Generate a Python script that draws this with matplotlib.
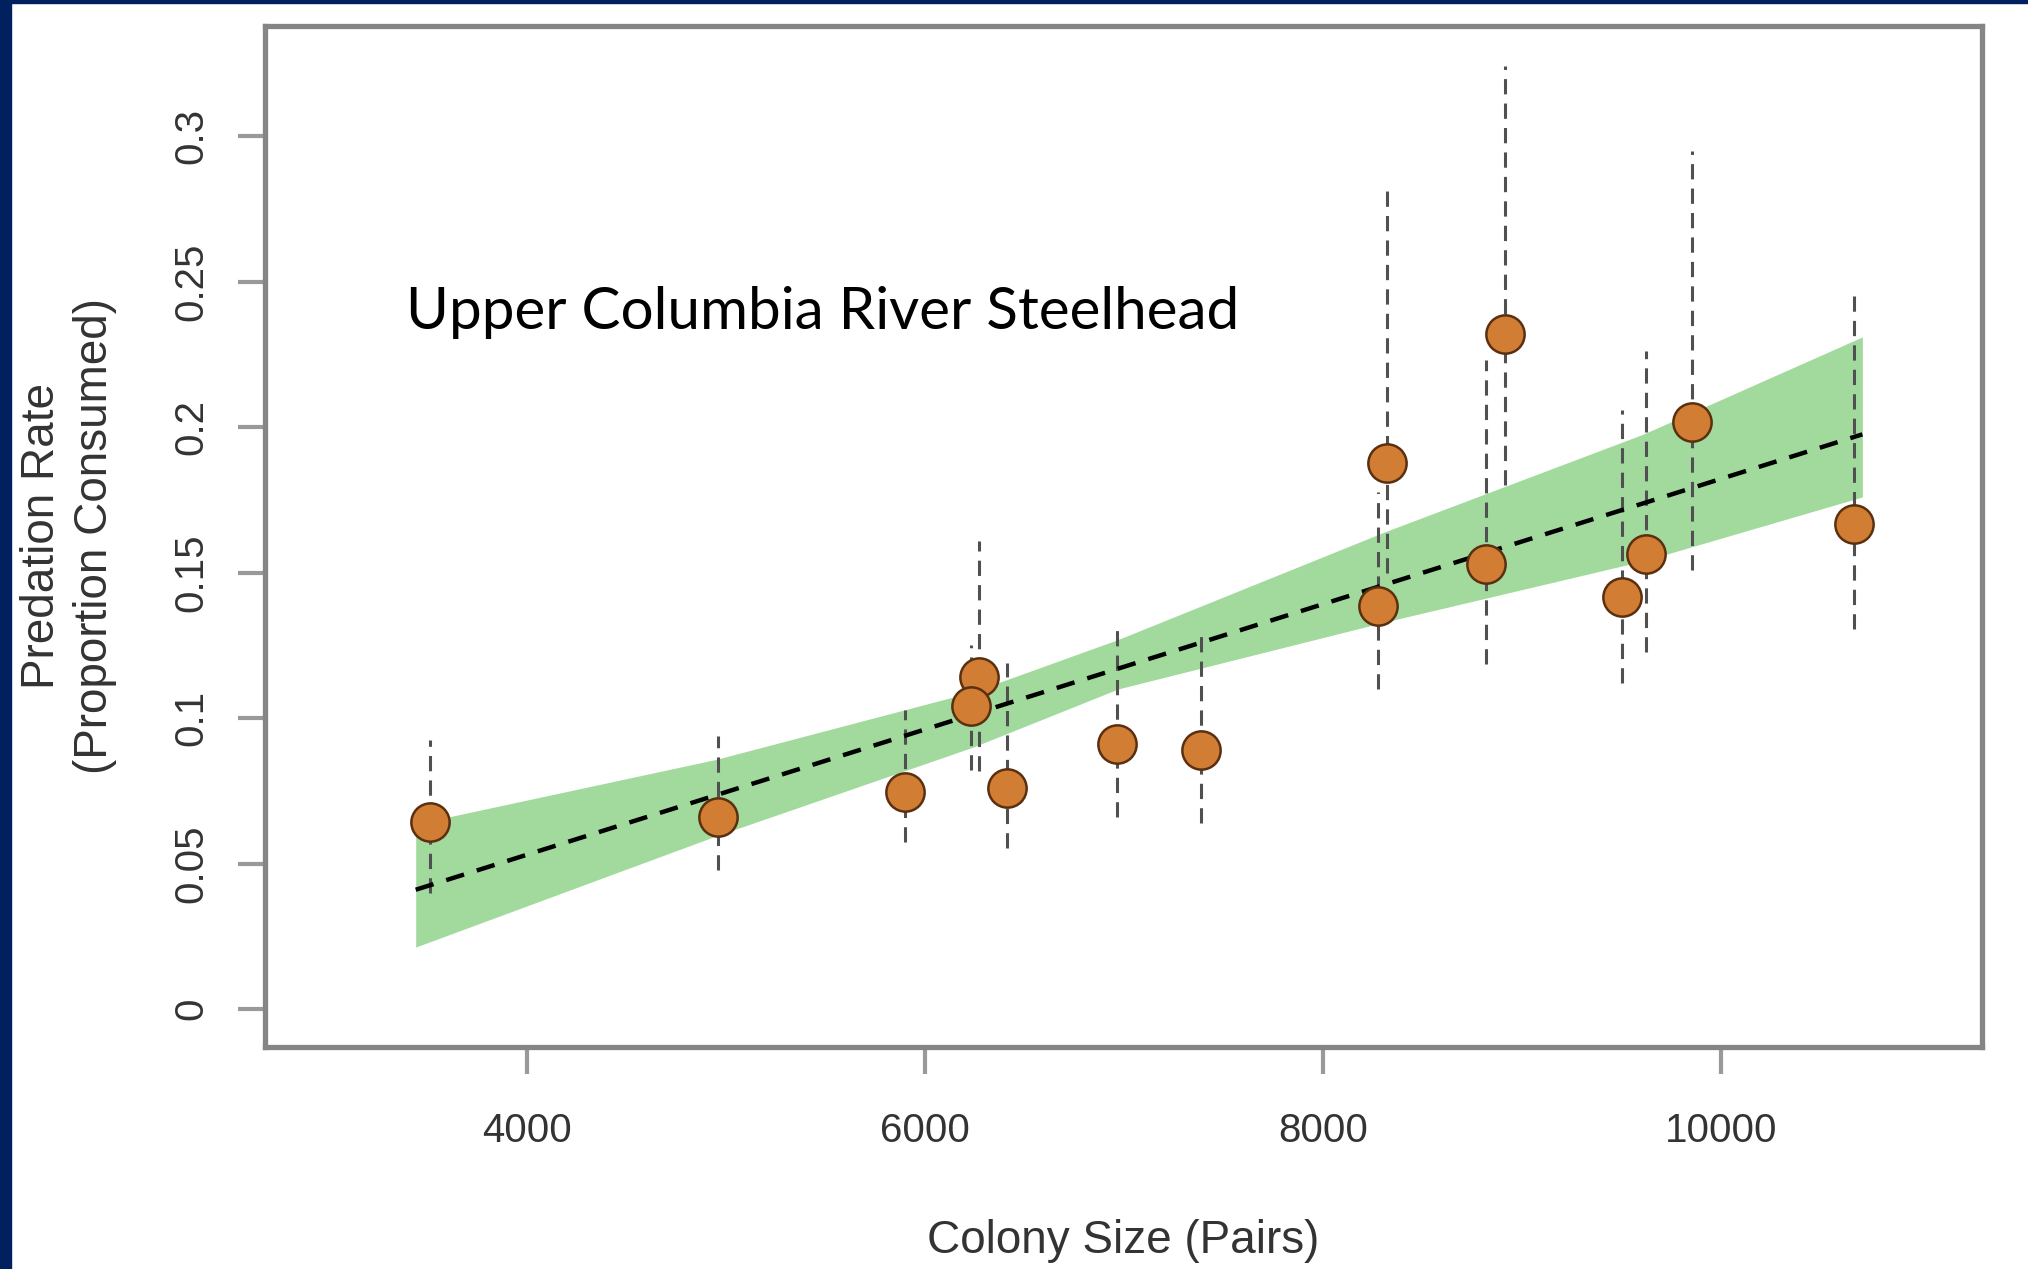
import matplotlib
matplotlib.use("Agg")
import matplotlib.pyplot as plt
from matplotlib.patches import Rectangle

# ---- data ----
colony_size = [3512, 4960, 5897, 6269, 6233, 6412, 6965, 7385,
               8275, 8323, 8818, 8915, 9501, 9622, 9852, 10670]
predation = [0.0644, 0.0660, 0.0745, 0.1140, 0.1042, 0.0760, 0.0910, 0.0890,
             0.1384, 0.1878, 0.1530, 0.2320, 0.1416, 0.1563, 0.2017, 0.1668]
err_low = [0.0400, 0.0477, 0.0574, 0.0817, 0.0820, 0.0555, 0.0660, 0.0640,
           0.1100, 0.1500, 0.1187, 0.1800, 0.1120, 0.1226, 0.1509, 0.1305]
err_high = [0.0924, 0.0938, 0.1028, 0.1610, 0.1250, 0.1190, 0.1310, 0.1285,
            0.1778, 0.2810, 0.2230, 0.3240, 0.2060, 0.2260, 0.2950, 0.2450]

# fitted line and confidence band
fit_x = [3440, 10710]
fit_y = [0.0410, 0.1975]
band_x = [3440, 4950, 6240, 6970, 8310, 9610, 10710]
band_low = [0.0213, 0.0595, 0.0900, 0.1100, 0.1330, 0.1540, 0.1760]
band_high = [0.0636, 0.0858, 0.1090, 0.1270, 0.1640, 0.1976, 0.2310]

x_ticks = [4000, 6000, 8000, 10000]
y_ticks = [0, 0.05, 0.1, 0.15, 0.2, 0.25, 0.3]
y_tick_labels = ["0", "0.05", "0.1", "0.15", "0.2", "0.25", "0.3"]

plt.rcParams["font.family"] = ["Liberation Sans", "DejaVu Sans"]

fig = plt.figure(figsize=(20.28, 12.69), dpi=100)
ax = fig.add_axes([0.1307, 0.1749, 0.8466, 0.805])

# ---- plot ----
ax.fill_between(band_x, band_low, band_high, color="#a2da9e", linewidth=0, zorder=1)
ax.vlines(colony_size, err_low, err_high, colors="#505050", linewidth=2.2,
          linestyles=(0, (5, 3)), zorder=2)
ax.plot(fit_x, fit_y, color="black", linewidth=3.2, linestyle=(0, (4.2, 3)), zorder=3)
ax.scatter(colony_size, predation, s=760, color="#d27d34", edgecolor="#5a3010",
           linewidth=1.8, zorder=4)

ax.text(0.082, 0.719, "Upper Columbia River Steelhead", transform=ax.transAxes,
        fontsize=42, family=["Lato", "DejaVu Sans"], color="black", va="center", ha="left")

ax.set_xlim(2683, 11311)
ax.set_ylim(-0.01306, 0.338)
ax.set_xticks(x_ticks)
ax.set_xticklabels([str(t) for t in x_ticks])
ax.set_yticks(y_ticks)
ax.set_yticklabels(y_tick_labels, rotation=90, va="center")

for side in ax.spines.values():
    side.set_color("#858585")
    side.set_linewidth(3.8)

ax.tick_params(axis="both", direction="out", length=19.5, width=3, color="#999999",
               labelsize=29, labelcolor="#333333")
ax.tick_params(axis="x", pad=27)
ax.tick_params(axis="y", pad=20)

ax.set_xlabel("Colony Size (Pairs)", fontsize=33, color="#333333", labelpad=50)
ax.set_ylabel("Predation Rate\n(Proportion Consumed)", fontsize=33, color="#333333",
              labelpad=40, linespacing=1.25)

# dark blue frame strips at the left and top edge
fig.patches.append(Rectangle((0, 0), 11 / 2028, 1, transform=fig.transFigure,
                             color="#002060", zorder=10))
fig.patches.append(Rectangle((0, 1 - 3 / 1269), 1, 3 / 1269, transform=fig.transFigure,
                             color="#002060", zorder=10))

fig.savefig("out.png", dpi=100)
